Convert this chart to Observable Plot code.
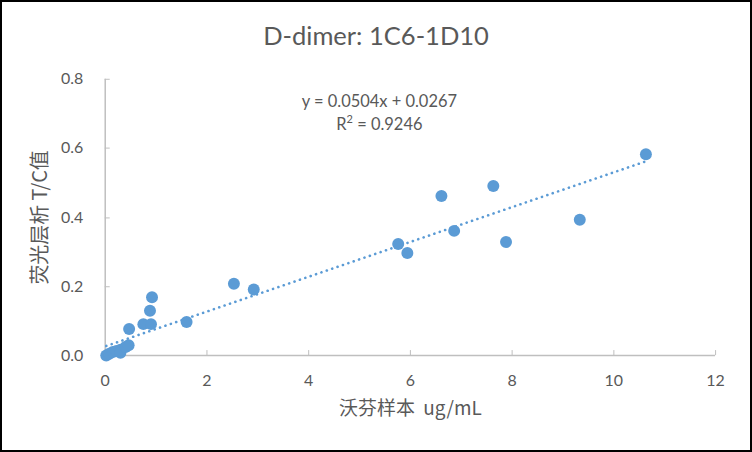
<!DOCTYPE html>
<html>
<head>
<meta charset="utf-8">
<script src="https://cdn.jsdelivr.net/npm/d3@7"></script>
<script src="https://cdn.jsdelivr.net/npm/@observablehq/plot@0.6"></script>
<style>
  html, body { margin: 0; padding: 0; background: #fff; }
  #frame { position: relative; width: 752px; height: 452px; box-sizing: border-box; border: 2px solid #000; overflow: hidden; }
  #title { position: absolute; left: 0; right: 0; top: 18px; text-align: center; font-family: Lato, "Noto Sans", sans-serif; font-size: 25.5px; color: #595959; }
  #chart { position: absolute; left: -2px; top: -2px; }
</style>
</head>
<body>
<div id="frame">
  <div id="title">D-dimer: 1C6-1D10</div>
  <div id="chart"></div>
</div>
<script>
// Data (x: 沃芬样本 ug/mL, y: 荧光层析 T/C值)
const xValues = [0.02, 0.08, 0.15, 0.22, 0.30, 0.30, 0.40, 0.46, 0.47, 0.75, 0.90, 0.88, 0.92, 1.60, 2.53, 2.92, 5.76, 5.94, 6.61, 6.86, 7.63, 7.88, 9.33, 10.63];
const yValues = [0.000, 0.005, 0.010, 0.013, 0.017, 0.008, 0.025, 0.030, 0.077, 0.091, 0.091, 0.130, 0.169, 0.097, 0.208, 0.191, 0.323, 0.297, 0.462, 0.361, 0.491, 0.329, 0.393, 0.583];
const xTicks = [0, 2, 4, 6, 8, 10, 12];
const yTicks = [0, 0.2, 0.4, 0.6, 0.8];
const slope = 0.0504;
const intercept = 0.0267;
const r2 = 0.9246;
const equationText = `y = ${slope}x + ${intercept}`;
const xTitle = "沃芬样本  ug/mL";
const yTitle = "荧光层析 T/C值";

const points = xValues.map((x, i) => ({x, y: yValues[i]}));
const xMin = d3.min(xValues), xMax = d3.max(xValues);
const trend = [xMin, xMax].map(x => ({x, y: slope * x + intercept}));

const font = 'Lato, "Noto Sans", "Noto Sans CJK SC", sans-serif';
const cjkFont = '"Noto Sans CJK SC", Lato, sans-serif';
const grey = "#BFBFBF";
const textColor = "#595959";

// inner tick marks (Excel style), drawn from the scales
function innerTicks(index, scales, values, dims) {
  const g = d3.create("svg:g").attr("stroke", grey).attr("stroke-width", 1);
  const yb = dims.height - dims.marginBottom;
  for (const t of xTicks.slice(1)) {
    const px = Math.round(scales.x(t)) + 0.5;
    g.append("line").attr("x1", px).attr("x2", px).attr("y1", yb).attr("y2", yb - 5);
  }
  for (const t of yTicks.slice(1)) {
    const py = Math.round(scales.y(t)) + 0.5;
    g.append("line").attr("x1", dims.marginLeft).attr("x2", dims.marginLeft + 5).attr("y1", py).attr("y2", py);
  }
  return g.node();
}

// regression equation label (with superscript)
function equation(index, scales, values, dims) {
  const cx = scales.x(5.4), cy = scales.y(0.735);
  const g = d3.create("svg:g").attr("fill", textColor).attr("font-size", 16.5).attr("font-family", font).attr("text-anchor", "middle");
  g.append("text").attr("x", cx).attr("y", cy).attr("dy", "0.35em").text(equationText);
  const t2 = g.append("text").attr("x", cx).attr("y", cy + 23).attr("dy", "0.35em");
  t2.append("tspan").text("R");
  t2.append("tspan").text("2").attr("font-size", 11).attr("dy", "-0.6em");
  t2.append("tspan").text(" = " + r2).attr("dy", "0.4em");
  return g.node();
}

const chart = Plot.plot({
  width: 752,
  height: 452,
  marginLeft: 105,
  marginRight: 35,
  marginTop: 79,
  marginBottom: 96,
  style: {fontFamily: font, fontSize: "16px", color: textColor, background: "transparent"},
  x: {type: "linear", domain: [0, 12], label: null},
  y: {type: "linear", domain: [0, 0.8], label: null},
  marks: [
    Plot.axisX({ticks: xTicks, tickSize: 0, tickPadding: 19, fontSize: 16, fill: textColor, tickFormat: d3.format("d")}),
    Plot.axisY({ticks: yTicks, tickSize: 0, tickPadding: 22, fontSize: 16, fill: textColor, tickFormat: d3.format(".1f")}),
    innerTicks,
    Plot.ruleY([0], {stroke: grey, strokeWidth: 1.5}),
    Plot.ruleX([0], {stroke: grey, strokeWidth: 1.5}),
    Plot.line(trend, {x: "x", y: "y", stroke: "#5B9BD5", strokeWidth: 2.6, strokeDasharray: "0.1 5.6", strokeLinecap: "round"}),
    Plot.dot(points, {x: "x", y: "y", r: 6, fill: "#5B9BD5", stroke: "none"}),
    equation,
    Plot.text([xTitle], {frameAnchor: "bottom", dy: 60, text: d => d, fontSize: 19, fill: textColor, fontFamily: cjkFont}),
    Plot.text([yTitle], {frameAnchor: "left", textAnchor: "middle", dx: -65, rotate: -90, text: d => d, fontSize: 20, fill: textColor, fontFamily: cjkFont})
  ]
});
document.getElementById("chart").appendChild(chart);
</script>
</body>
</html>
